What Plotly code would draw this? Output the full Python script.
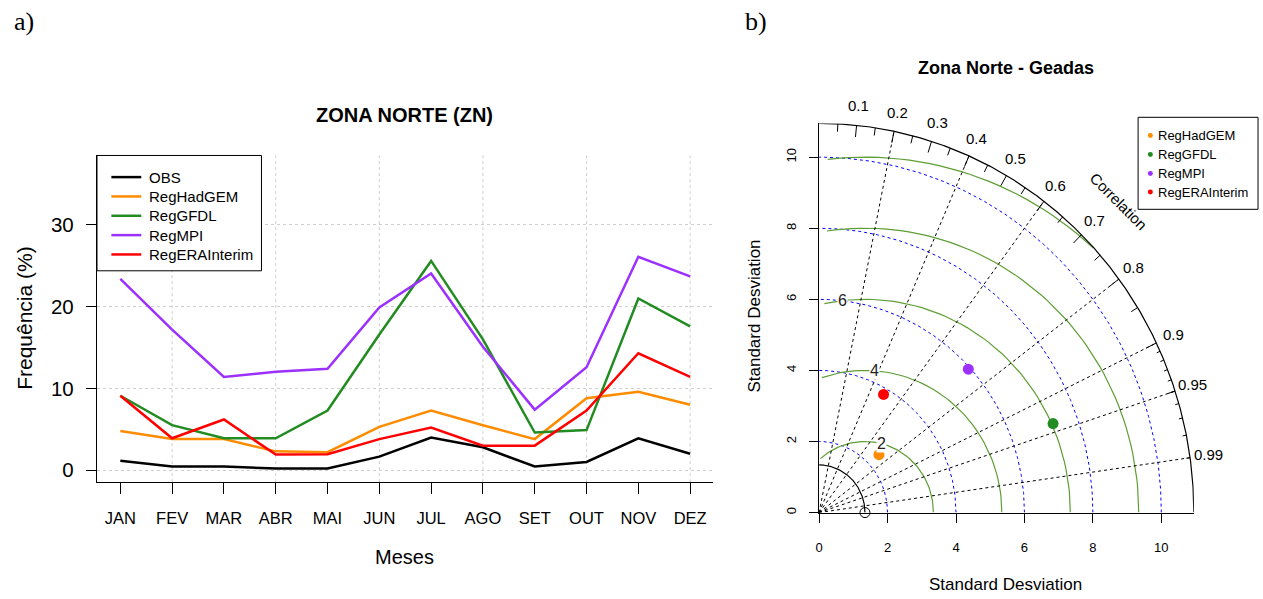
import numpy as np
import plotly.graph_objects as go

W, H = 1263, 599

# ---------------- data: panel a ----------------
MONTHS = ["JAN", "FEV", "MAR", "ABR", "MAI", "JUN", "JUL", "AGO", "SET", "OUT", "NOV", "DEZ"]
GRID_MONTHS = ["FEV", "ABR", "JUN", "AGO", "OUT", "DEZ"]
Y_TICKS = [0, 10, 20, 30]
SERIES_NAMES = ["OBS", "RegHadGEM", "RegGFDL", "RegMPI", "RegERAInterim"]
OBS = [1.15, 0.45, 0.45, 0.2, 0.2, 1.65, 4.0, 2.8, 0.45, 1.0, 3.9, 2.0]
REG_HADGEM = [4.8, 3.8, 3.8, 2.3, 2.2, 5.3, 7.3, 5.5, 3.8, 8.8, 9.6, 8.0]
REG_GFDL = [9.1, 5.5, 3.9, 3.9, 7.3, 16.6, 25.6, 16.0, 4.6, 4.9, 21.0, 17.6]
REG_MPI = [23.4, 17.2, 11.4, 12.05, 12.4, 19.9, 24.05, 15.1, 7.4, 12.6, 26.1, 23.7]
REG_ERA = [9.1, 3.9, 6.2, 1.9, 1.95, 3.8, 5.2, 3.0, 3.0, 7.3, 14.3, 11.4]
SERIES_COLORS = ["#000000", "#FF8C00", "#228B22", "#9B30FF", "#FF0000"]

# ---------------- data: panel b (Taylor diagram) ----------------
TAYLOR_MODELS = ["RegHadGEM", "RegGFDL", "RegMPI", "RegERAInterim"]
TAYLOR_COLORS = ["#FF8C00", "#228B22", "#9B30FF", "#FF0000"]
MODEL_SD = [2.39, 7.28, 5.94, 3.82]
MODEL_COR = [0.732, 0.939, 0.734, 0.493]
REF_SD = 1.34
MAX_SD = 10.95
SD_TICKS = [0, 2, 4, 6, 8, 10]
SD_ARCS = [2, 4, 6, 8, 10]
GAMMA = [2, 4, 6, 8, 10]
GAMMA_LABEL_IDX = [44, 50, 56, 62, 69]
CORR_LINES = [0.2, 0.4, 0.6, 0.8, 0.9, 0.95, 0.99]
CORR_LABELS = [0.1, 0.2, 0.3, 0.4, 0.5, 0.6, 0.7, 0.8, 0.9, 0.95, 0.99]
BIG_TICKS = [0.1, 0.2, 0.3, 0.4, 0.5, 0.6, 0.7, 0.8, 0.9]
MED_TICKS = [0.05, 0.15, 0.25, 0.35, 0.45, 0.55, 0.65, 0.75, 0.85, 0.95]
SML_TICKS = [0.91, 0.92, 0.93, 0.94, 0.95, 0.96, 0.97, 0.98, 0.99]

FONT = "Liberation Sans, Arial, sans-serif"
SERIF = "Liberation Serif, Times New Roman, serif"
GAMMA_COL = "#5E9E34"

# pixel placement of the Taylor diagram (origin and px per sd unit)
T_X0, T_Y0, T_SX, T_SY = 817.7, 514.3, 34.33, 35.66


def px(x):
    return x / W


def py(y):
    return 1 - y / H


def tx(v):
    return px(T_X0 + T_SX * v)


def ty(v):
    return py(T_Y0 - T_SY * v)


fig = go.Figure()

# ---------------- panel a traces ----------------
for name, vals, col in zip(SERIES_NAMES, [OBS, REG_HADGEM, REG_GFDL, REG_MPI, REG_ERA], SERIES_COLORS):
    fig.add_trace(go.Scatter(x=MONTHS, y=vals, mode="lines", name=name,
                             line=dict(color=col, width=2.5),
                             xaxis="x", yaxis="y", showlegend=False))

# ---------------- panel b traces ----------------
t = np.linspace(0, np.pi / 2, 300)
xs, ys = [], []
for r in SD_ARCS:
    xs += list(r * np.cos(t)) + [None]
    ys += list(r * np.sin(t)) + [None]
fig.add_trace(go.Scatter(x=xs, y=ys, mode="lines", line=dict(color="#0000FF", width=1, dash="dot"),
                         xaxis="x2", yaxis="y2", showlegend=False, hoverinfo="skip"))

ang = np.arange(0, np.pi, 0.03)
xs, ys = [], []
gamma_label_pos = []
for g, li in zip(GAMMA, GAMMA_LABEL_IDX):
    xc = np.cos(ang) * g + REF_SD
    yc = np.sin(ang) * g
    neg = np.where(xc < 0)[0]
    end = neg.min() if len(neg) else len(ang)
    out = np.where(xc ** 2 + yc ** 2 > MAX_SD ** 2)[0]
    start = out.max() + 1 if len(out) else 0
    xs += list(xc[start:end]) + [None]
    ys += list(yc[start:end]) + [None]
    if xc[li] > 0:
        gamma_label_pos.append((g, xc[li], yc[li]))
fig.add_trace(go.Scatter(x=xs, y=ys, mode="lines", line=dict(color=GAMMA_COL, width=1.2),
                         xaxis="x2", yaxis="y2", showlegend=False, hoverinfo="skip"))

xs, ys = [], []
for c in CORR_LINES:
    xs += [0, MAX_SD * c, None]
    ys += [0, MAX_SD * np.sqrt(1 - c * c), None]
fig.add_trace(go.Scatter(x=xs, y=ys, mode="lines", line=dict(color="#000000", width=1, dash="dot"),
                         xaxis="x2", yaxis="y2", showlegend=False, hoverinfo="skip"))

# outer arc + reference arc
xs = list(MAX_SD * np.cos(t)) + [None] + list(REF_SD * np.cos(t))
ys = list(MAX_SD * np.sin(t)) + [None] + list(REF_SD * np.sin(t))
fig.add_trace(go.Scatter(x=xs, y=ys, mode="lines", line=dict(color="#000000", width=1.2),
                         xaxis="x2", yaxis="y2", showlegend=False, hoverinfo="skip"))

# tick marks on outer arc
xs, ys = [], []
for ticks, f in [(BIG_TICKS, 0.97), (MED_TICKS, 0.98), (SML_TICKS, 0.99)]:
    for c in ticks:
        s = np.sqrt(1 - c * c)
        xs += [MAX_SD * c, f * MAX_SD * c, None]
        ys += [MAX_SD * s, f * MAX_SD * s, None]
fig.add_trace(go.Scatter(x=xs, y=ys, mode="lines", line=dict(color="#000000", width=1),
                         xaxis="x2", yaxis="y2", showlegend=False, hoverinfo="skip"))

# reference point
fig.add_trace(go.Scatter(x=[REF_SD], y=[0], mode="markers",
                         marker=dict(symbol="circle-open", size=10, color="#000000", line=dict(width=1)),
                         xaxis="x2", yaxis="y2", showlegend=False, cliponaxis=False))

# model points
for name, sd, cr, col in zip(TAYLOR_MODELS, MODEL_SD, MODEL_COR, TAYLOR_COLORS):
    fig.add_trace(go.Scatter(x=[sd * cr], y=[sd * np.sqrt(1 - cr * cr)], mode="markers", name=name,
                             marker=dict(size=11, color=col),
                             xaxis="x2", yaxis="y2", showlegend=False, cliponaxis=False))

shapes = []
annotations = []

# vertical dotted grid (panel a)
for m in GRID_MONTHS:
    shapes.append(dict(type="line", xref="x", yref="y domain", x0=m, x1=m, y0=0, y1=1,
                       line=dict(color="#CFCFCF", width=1, dash="dot"), layer="below"))

# legend panel a (manual, R style)
shapes.append(dict(type="rect", xref="paper", yref="paper", x0=px(93.3), x1=px(258.3), y0=py(271.7), y1=py(156),
                   line=dict(color="#000000", width=1), fillcolor="white", layer="above"))
leg_y = [177.7, 197.1, 216.5, 235.9, 255.3]
for name, col, yy in zip(SERIES_NAMES, SERIES_COLORS, leg_y):
    shapes.append(dict(type="line", xref="paper", yref="paper", x0=px(107.7), x1=px(137.7), y0=py(yy), y1=py(yy),
                       line=dict(color=col, width=2.5)))
    annotations.append(dict(xref="paper", yref="paper", x=px(143.5), y=py(yy), text=name, showarrow=False,
                            xanchor="left", yanchor="middle", font=dict(family=FONT, size=15, color="#000000")))

# legend panel b
shapes.append(dict(type="rect", xref="paper", yref="paper", x0=px(1137.7), x1=px(1258), y0=py(210), y1=py(117.7),
                   line=dict(color="#000000", width=1), fillcolor="white", layer="above"))
leg_y2 = [136, 155, 174, 192.7]
for name, col, yy in zip(TAYLOR_MODELS, TAYLOR_COLORS, leg_y2):
    shapes.append(dict(type="circle", xref="paper", yref="paper", x0=px(1147.5), x1=px(1152.5),
                       y0=py(yy + 2.5), y1=py(yy - 2.5), fillcolor=col, line=dict(width=0)))
    annotations.append(dict(xref="paper", yref="paper", x=px(1156), y=py(yy), text=name, showarrow=False,
                            xanchor="left", yanchor="middle", font=dict(family=FONT, size=13, color="#000000")))

# titles & labels
annotations += [
    dict(xref="paper", yref="paper", x=px(401.5), y=py(115.5), text="<b>ZONA NORTE (ZN)</b>", showarrow=False,
         xanchor="center", yanchor="middle", font=dict(family=FONT, size=20, color="#000000")),
    dict(xref="paper", yref="paper", x=px(401.5), y=py(559), text="Meses", showarrow=False,
         xanchor="center", yanchor="middle", font=dict(family=FONT, size=20, color="#000000")),
    dict(xref="paper", yref="paper", x=px(21), y=py(319), text="Frequência (%)", showarrow=False, textangle=-90,
         xanchor="center", yanchor="middle", font=dict(family=FONT, size=21, color="#000000")),
    dict(xref="paper", yref="paper", x=px(1005), y=py(68.5), text="<b>Zona Norte - Geadas</b>", showarrow=False,
         xanchor="center", yanchor="middle", font=dict(family=FONT, size=18, color="#000000")),
    dict(xref="paper", yref="paper", x=px(1005), y=py(586), text="Standard Desviation", showarrow=False,
         xanchor="center", yanchor="middle", font=dict(family=FONT, size=17, color="#000000")),
    dict(xref="paper", yref="paper", x=px(753), y=py(317), text="Standard Desviation", showarrow=False, textangle=-90,
         xanchor="center", yanchor="middle", font=dict(family=FONT, size=17, color="#000000")),
    dict(xref="paper", yref="paper", x=px(20), y=py(22), text="a)", showarrow=False,
         xanchor="center", yanchor="middle", font=dict(family=SERIF, size=26, color="#000000")),
    dict(xref="paper", yref="paper", x=px(754), y=py(22), text="b)", showarrow=False,
         xanchor="center", yanchor="middle", font=dict(family=SERIF, size=26, color="#000000")),
    dict(xref="paper", yref="paper", x=tx(0.8 * MAX_SD), y=ty(0.8 * MAX_SD), text="Correlation", showarrow=False,
         textangle=45, xanchor="center", yanchor="middle", font=dict(family=FONT, size=15, color="#000000")),
]
for c in CORR_LABELS:
    annotations.append(dict(xref="paper", yref="paper", x=tx(1.05 * MAX_SD * c),
                            y=ty(1.05 * MAX_SD * np.sqrt(1 - c * c)),
                            text=f"{c:g}", showarrow=False, xanchor="center", yanchor="middle",
                            font=dict(family=FONT, size=15, color="#000000")))
for g, gx, gy in gamma_label_pos:
    annotations.append(dict(xref="x2", yref="y2", x=gx, y=gy, text=str(g), showarrow=False,
                            xanchor="center", yanchor="middle", bgcolor="white", borderpad=0,
                            font=dict(family=FONT, size=16, color="#222222")))

fig.update_layout(
    width=W, height=H, autosize=False,
    margin=dict(l=0, r=0, t=0, b=0),
    paper_bgcolor="white", plot_bgcolor="white",
    showlegend=False,
    font=dict(family=FONT, color="#000000"),
    xaxis=dict(domain=[px(93.3), px(711.7)], type="category", categoryorder="array", categoryarray=MONTHS,
               range=[-0.45, 11.45], showgrid=False, zeroline=False, showline=True, linecolor="#000000",
               linewidth=1.3, ticks="outside", ticklen=11, tickcolor="#000000", tickwidth=1.3,
               tickfont=dict(family=FONT, size=16.5, color="#000000"), ticklabelstandoff=10, anchor="y"),
    yaxis=dict(domain=[py(483.7), py(156)], range=[-1.46, 38.5], tickvals=Y_TICKS,
               showgrid=True, gridcolor="#CFCFCF", griddash="dot", gridwidth=1, zeroline=False,
               showline=True, linecolor="#000000", linewidth=1.3, ticks="outside", ticklen=10,
               tickcolor="#000000", tickwidth=1.3, tickfont=dict(family=FONT, size=20.5, color="#000000"),
               ticklabelstandoff=8, anchor="x"),
    xaxis2=dict(domain=[px(T_X0), px(T_X0 + MAX_SD * T_SX)], range=[0, MAX_SD], tickvals=SD_TICKS,
                showgrid=False, zeroline=False, showline=True, linecolor="#000000", linewidth=1.2,
                ticks="outside", ticklen=9, tickcolor="#000000", tickfont=dict(family=FONT, size=13, color="#000000"),
                ticklabelstandoff=14, anchor="y2"),
    yaxis2=dict(domain=[py(T_Y0), py(T_Y0 - MAX_SD * T_SY)], range=[0, MAX_SD], tickvals=SD_TICKS,
                showgrid=False, zeroline=False, showline=True, linecolor="#000000", linewidth=1.2,
                ticks="outside", ticklen=9, tickcolor="#000000", tickangle=-90,
                tickfont=dict(family=FONT, size=13, color="#000000"), ticklabelstandoff=8, anchor="x2"),
    shapes=shapes,
    annotations=annotations,
)

fig.write_html("out.html")
